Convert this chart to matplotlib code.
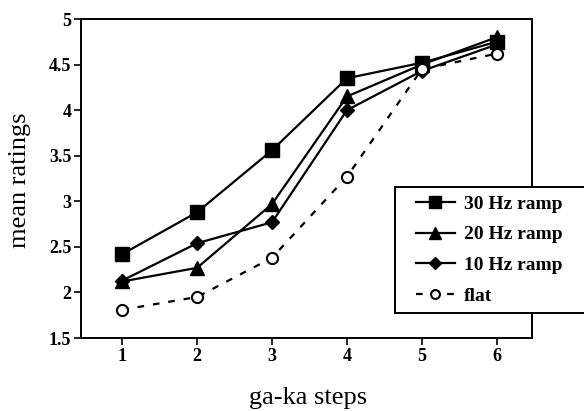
import matplotlib
matplotlib.use("Agg")
import matplotlib.pyplot as plt
from matplotlib.patches import Rectangle

steps = [1, 2, 3, 4, 5, 6]
ramp30 = [2.42, 2.88, 3.56, 4.35, 4.52, 4.75]
ramp20 = [2.12, 2.27, 2.97, 4.15, 4.50, 4.80]
ramp10 = [2.13, 2.54, 2.77, 4.00, 4.43, 4.72]
flat = [1.81, 1.95, 2.38, 3.27, 4.45, 4.62]
yticks = [1.5, 2, 2.5, 3, 3.5, 4, 4.5, 5]
ytick_labels = ["1.5", "2", "2.5", "3", "3.5", "4", "4.5", "5"]

plt.rcParams['font.family'] = ['Liberation Serif', 'DejaVu Serif']

fig = plt.figure(figsize=(5.84, 4.11), dpi=100)
W, H = 584, 411
ax = fig.add_axes([81 / W, 1 - 338 / H, (532 - 81) / W, (338 - 19) / H])

lw = 1.6
ax.plot(steps, ramp30, color='black', lw=lw, marker='s', ms=10, label='30 Hz ramp')
ax.plot(steps, ramp20, color='black', lw=lw, marker='^', ms=10, label='20 Hz ramp')
ax.plot(steps, ramp10, color='black', lw=lw, marker='D', ms=7.5, label='10 Hz ramp')
ax.plot(steps, flat, color='black', lw=lw, ls=(0, (3, 4)), marker='o', ms=8,
        mfc='white', mec='black', mew=1.5, label='flat')

ax.set_xlim(0.45, 6.47)
ax.set_ylim(1.5, 5)
ax.set_xticks(steps)
ax.set_xticklabels([str(s) for s in steps], fontsize=13, fontweight='bold')
ax.set_yticks(yticks)
ax.set_yticklabels(ytick_labels, fontsize=13, fontweight='bold')
ax.tick_params(direction='out', length=5, width=1.2, pad=2)
for s in ax.spines.values():
    s.set_linewidth(1.4)

fig.text(308 / W, 1 - 398 / H, 'ga-ka steps', fontsize=19, ha='center', va='center')
fig.text(20 / W, 1 - 180 / H, 'mean ratings', fontsize=19, ha='center', va='center',
         rotation=90)

# legend box (extends past the right edge of the figure)
box = Rectangle((395 / W, 1 - 313 / H), 200 / W, 126 / H, transform=fig.transFigure,
                facecolor='white', edgecolor='black', linewidth=1.4, zorder=3)
fig.patches.append(box)

handles, labels = ax.get_legend_handles_labels()
leg = fig.legend(handles, labels, loc='upper left',
                 bbox_to_anchor=(416 / W, 1 - 195 / H),
                 bbox_transform=fig.transFigure, fontsize=14,
                 frameon=False, handlelength=2.0,
                 borderpad=0, labelspacing=0.68, handletextpad=0.45, markerscale=0.8,
                 borderaxespad=0)
leg.set_zorder(5)
for t in leg.get_texts():
    t.set_fontweight('bold')

fig.savefig('out.png', dpi=100)
